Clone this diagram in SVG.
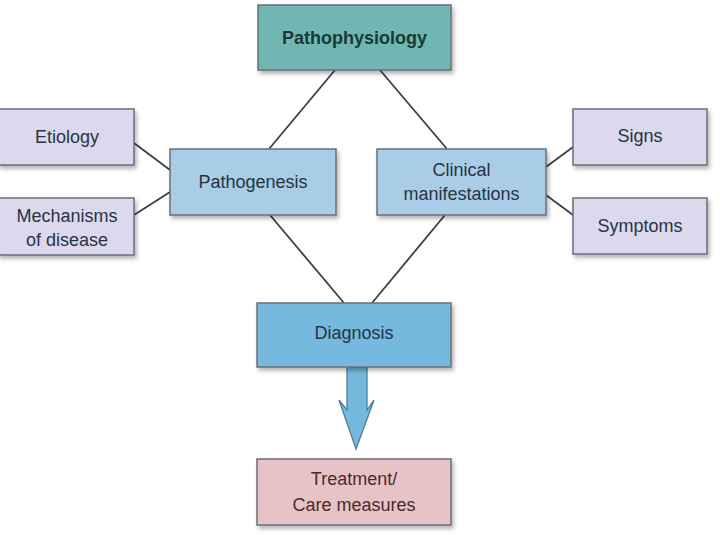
<svg xmlns="http://www.w3.org/2000/svg" width="720" height="535" viewBox="0 0 720 535">
<defs>
<filter id="sh" x="-10%" y="-10%" width="130%" height="140%">
<feDropShadow dx="2" dy="3" stdDeviation="2" flood-color="#000" flood-opacity="0.3"/>
</filter>
</defs>
<style>
rect{stroke:#6a6f78;stroke-width:1.5;filter:url(#sh)}
.lav{fill:#dcd9ef}
.blue{fill:#a9cde6}
.teal{fill:#6fb6b2}
.dblue{fill:#74b9de}
.pink{fill:#e8c3c5}
text{font-family:"Liberation Sans",Arial,sans-serif;font-size:18px;fill:#263443;text-anchor:middle}
.b{font-weight:bold;font-size:18px;fill:#1b3838}
.m{fill:#4a2a2c}
.ln{stroke:#3b3f45;stroke-width:1.8;fill:none}
</style>
<rect width="720" height="535" fill="#fff" style="stroke:none;filter:none"/>
<g id="connectors">
<line class="ln" x1="335" y1="70" x2="269" y2="149"/>
<line class="ln" x1="380" y1="70" x2="447" y2="149"/>
<line class="ln" x1="270" y1="215" x2="344" y2="303"/>
<line class="ln" x1="445" y1="215" x2="372" y2="303"/>
<line class="ln" x1="134" y1="143" x2="170" y2="170"/>
<line class="ln" x1="134" y1="215" x2="170" y2="192"/>
<line class="ln" x1="546" y1="167" x2="573" y2="147"/>
<line class="ln" x1="546" y1="195" x2="573" y2="215"/>
<path d="M347 367 L367 367 L367 410 L374 400 L356 449 L339 400 L347 410 Z" fill="#74b9de" stroke="#4f7f98" stroke-width="1.3"/>
</g>
<g id="pathophysiology">
<rect class="teal" x="258" y="5" width="193" height="65"/>
<text class="b" x="354.5" y="44">Pathophysiology</text>
</g>
<g id="etiology">
<rect class="lav" x="-2" y="109" width="136" height="56"/>
<text x="67" y="143">Etiology</text>
</g>
<g id="mechanisms">
<rect class="lav" x="-2" y="198" width="136" height="57"/>
<text x="67" y="222">Mechanisms</text>
<text x="67" y="246">of disease</text>
</g>
<g id="pathogenesis">
<rect class="blue" x="170" y="149" width="166" height="66"/>
<text x="253" y="188">Pathogenesis</text>
</g>
<g id="clinical">
<rect class="blue" x="377" y="149" width="169" height="66"/>
<text x="461.5" y="176">Clinical</text>
<text x="461.5" y="200">manifestations</text>
</g>
<g id="signs">
<rect class="lav" x="573" y="109" width="134" height="56"/>
<text x="640" y="142">Signs</text>
</g>
<g id="symptoms">
<rect class="lav" x="573" y="198" width="134" height="56"/>
<text x="640" y="232">Symptoms</text>
</g>
<g id="diagnosis">
<rect class="dblue" x="257" y="303" width="194" height="64"/>
<text x="354" y="339">Diagnosis</text>
</g>
<g id="treatment">
<rect class="pink" x="257" y="459" width="194" height="66"/>
<text class="m" x="354" y="485">Treatment/</text>
<text class="m" x="354" y="511">Care measures</text>
</g>
</svg>
